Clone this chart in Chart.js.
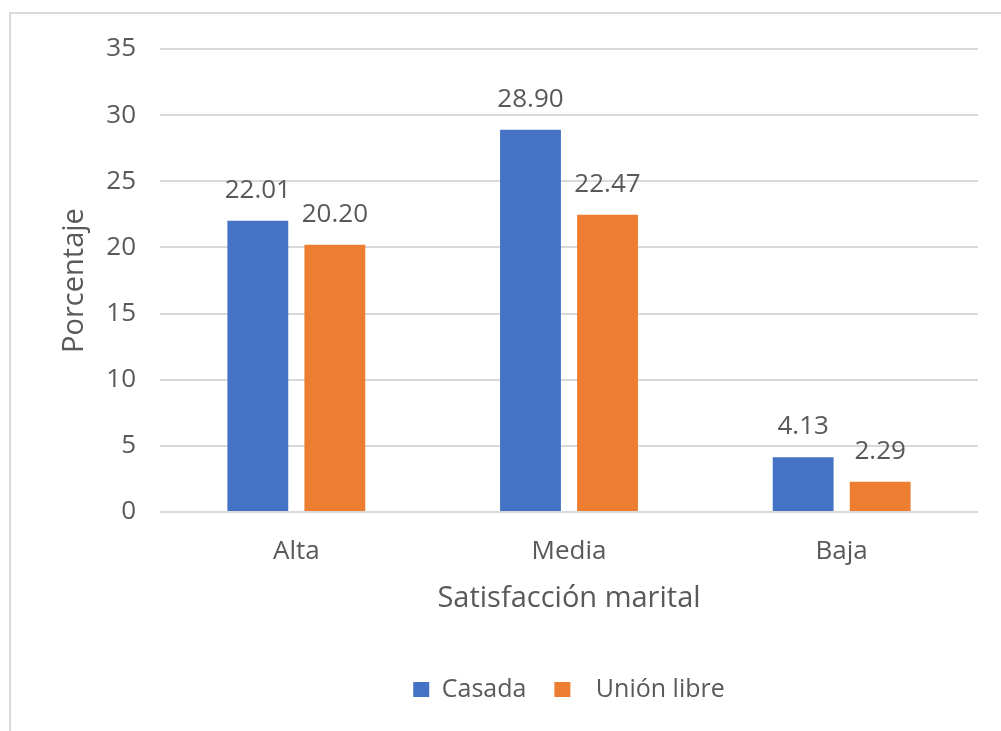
<!DOCTYPE html>
<html>
<head>
<meta charset="utf-8">
<script src="https://cdn.jsdelivr.net/npm/chart.js@4"></script>
<style>
    html, body { margin: 0; padding: 0; background: #fff; }
    #wrap { position: relative; width: 1001px; height: 731px; overflow: hidden; }
    #frame { position: absolute; left: 9px; top: 12px; width: 1100px; height: 800px; border: 2px solid #d9d9d9; }
    canvas { position: absolute; left: 0; top: 0; }
</style>
</head>
<body>
<div id="wrap">
    <div id="frame"></div>
    <canvas id="chart" width="1001" height="731"></canvas>
</div>
<script>
// Chart data
const categories = ['Alta', 'Media', 'Baja'];
const casada = [22.01, 28.90, 4.13];
const unionLibre = [20.20, 22.47, 2.29];
const seriesNames = ['Casada', '  Unión libre'];
const yTicks = [0, 5, 10, 15, 20, 25, 30, 35];

const textColor = '#595959';
const fontFamily = "'Open Sans', 'Noto Sans', sans-serif";

// Value labels above each bar
const barLabels = {
    id: 'barLabels',
    afterDatasetsDraw(chart) {
        const ctx = chart.ctx;
        ctx.save();
        ctx.font = '26px ' + fontFamily;
        ctx.fillStyle = textColor;
        ctx.textAlign = 'center';
        ctx.textBaseline = 'alphabetic';
        chart.data.datasets.forEach((ds, i) => {
            chart.getDatasetMeta(i).data.forEach((bar, j) => {
                ctx.fillText(ds.data[j].toFixed(2), bar.x, bar.y - 23);
            });
        });
        ctx.restore();
    }
};

const ctx = document.getElementById('chart').getContext('2d');
const chart = new Chart(ctx, {
    type: 'bar',
    data: {
        labels: categories,
        datasets: [
            {
                label: seriesNames[0],
                data: casada,
                backgroundColor: '#4472C4',
                categoryPercentage: 0.565,
                barPercentage: 0.79
            },
            {
                label: seriesNames[1],
                data: unionLibre,
                backgroundColor: '#ED7D31',
                categoryPercentage: 0.565,
                barPercentage: 0.79
            }
        ]
    },
    options: {
        responsive: false,
        animation: false,
        layout: {
            padding: { top: 49, right: 23, bottom: 19, left: 0 }
        },
        plugins: {
            legend: {
                position: 'bottom',
                fullSize: false,
                labels: {
                    color: textColor,
                    font: { family: fontFamily, size: 25 },
                    boxWidth: 16,
                    boxHeight: 15,
                    padding: 28
                }
            },
            tooltip: { enabled: false }
        },
        scales: {
            x: {
                grid: { display: false },
                border: { display: false },
                ticks: {
                    color: textColor,
                    font: { family: fontFamily, size: 26 },
                    padding: 16
                },
                title: {
                    display: true,
                    text: 'Satisfacción marital',
                    color: textColor,
                    font: { family: fontFamily, size: 29 },
                    padding: { top: 10, bottom: 33 }
                },
                afterFit(scale) {
                    scale.height = 137;
                }
            },
            y: {
                min: 0,
                max: 35,
                afterBuildTicks(scale) {
                    scale.ticks = yTicks.map(v => ({ value: v }));
                },
                grid: {
                    color: '#d9d9d9',
                    lineWidth: 2,
                    drawTicks: false
                },
                border: { display: false },
                ticks: {
                    color: textColor,
                    font: { family: fontFamily, size: 26 },
                    padding: 24
                },
                title: {
                    display: true,
                    text: 'Porcentaje',
                    color: textColor,
                    font: { family: fontFamily, size: 29 },
                    padding: { top: 57, bottom: 0 }
                },
                afterFit(scale) {
                    scale.width = 160;
                }
            }
        }
    },
    plugins: [barLabels]
});
</script>
</body>
</html>
